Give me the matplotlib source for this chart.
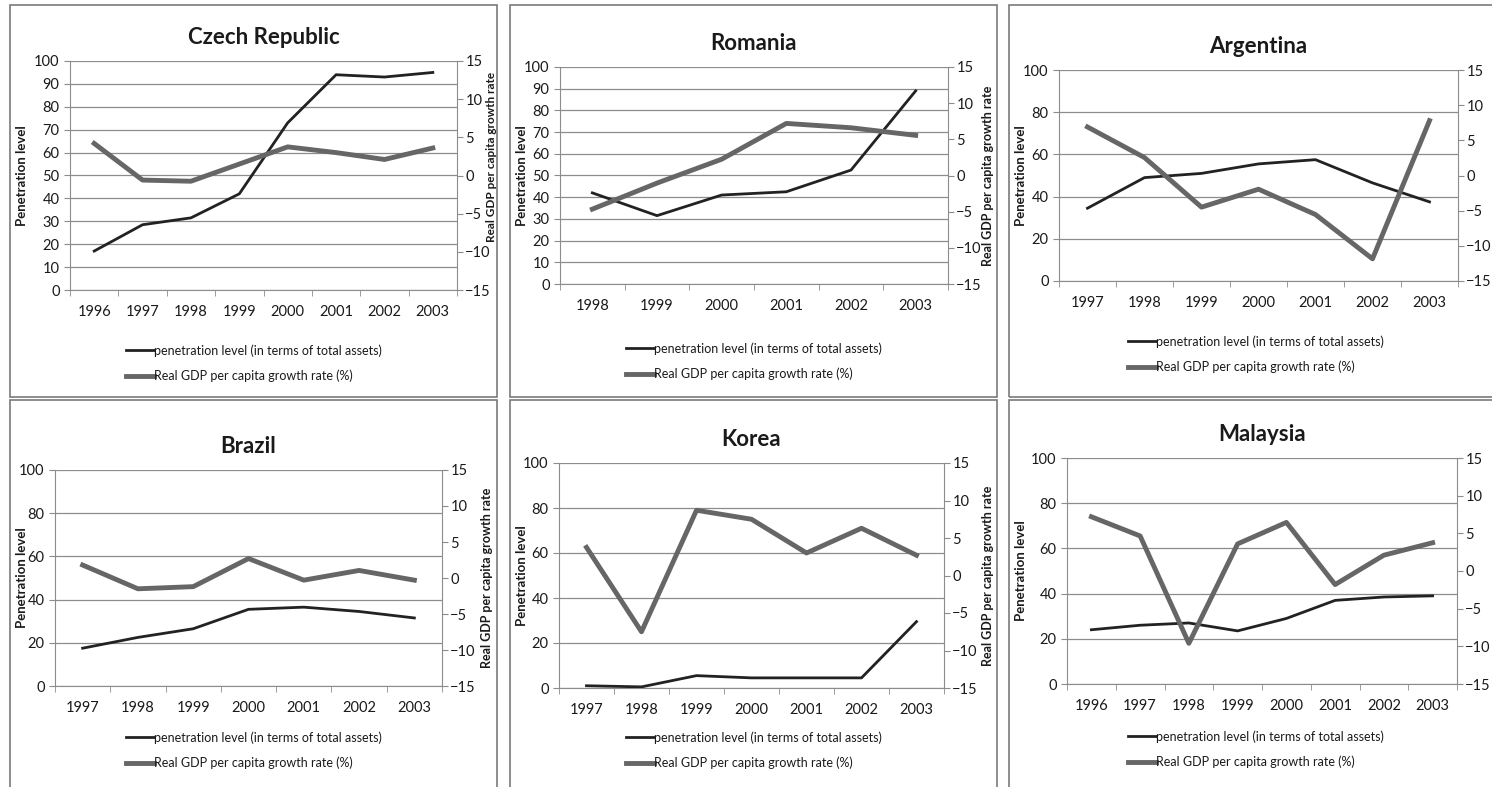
import matplotlib.pyplot as plt
from matplotlib.patches import Rectangle
from matplotlib.lines import Line2D

plt.rcParams['font.family'] = ['Lato', 'DejaVu Sans']

# Data (penetration level on left axis, GDP growth on right axis)
czech_years = ["1996", "1997", "1998", "1999", "2000", "2001", "2002", "2003"]
czech_pen = [17, 28.5, 31.5, 42, 73, 94, 93, 95]
czech_gdp = [4.2, -0.6, -0.75, 1.5, 3.75, 3.0, 2.1, 3.6]

romania_years = ["1998", "1999", "2000", "2001", "2002", "2003"]
romania_pen = [42, 31.5, 41, 42.5, 52.5, 89]
romania_gdp = [-4.65, -1.05, 2.25, 7.2, 6.6, 5.55]

argentina_years = ["1997", "1998", "1999", "2000", "2001", "2002", "2003"]
argentina_pen = [34.5, 49, 51, 55.5, 57.5, 46.5, 37.5]
argentina_gdp = [6.9, 2.55, -4.5, -1.95, -5.55, -11.85, 7.8]

brazil_years = ["1997", "1998", "1999", "2000", "2001", "2002", "2003"]
brazil_pen = [17.5, 22.5, 26.5, 35.5, 36.5, 34.5, 31.5]
brazil_gdp = [1.8, -1.5, -1.2, 2.7, -0.3, 1.05, -0.3]

korea_years = ["1997", "1998", "1999", "2000", "2001", "2002", "2003"]
korea_pen = [1, 0.5, 5.5, 4.5, 4.5, 4.5, 29.5]
korea_gdp = [3.75, -7.5, 8.7, 7.5, 3.0, 6.3, 2.7]

malaysia_years = ["1996", "1997", "1998", "1999", "2000", "2001", "2002", "2003"]
malaysia_pen = [24, 26, 27, 23.5, 29, 37, 38.5, 39]
malaysia_gdp = [7.2, 4.65, -9.6, 3.6, 6.45, -1.8, 2.1, 3.75]

legend_labels = ["penetration level (in terms of total assets)",
                 "Real GDP per capita growth rate (%)"]

PEN_COLOR = "#222222"
GDP_COLOR = "#666666"
GRID_COLOR = "#8c8c8c"
TEXT_COLOR = "#1a1a1a"
W, H = 1492, 787

fig = plt.figure(figsize=(W / 100, H / 100), dpi=100)


# pixel box -> figure fraction
def px_axes(left, top, right, bottom):
    return [left / W, 1 - bottom / H, (right - left) / W, (bottom - top) / H]


def draw_panel(title, years, pen, gdp, box, plot, step, right_label, leg_xy):
    bl, bt, br, bb = box
    fig.add_artist(Rectangle((bl / W, 1 - bb / H), (br - bl) / W, (bb - bt) / H,
                             transform=fig.transFigure, fill=False,
                             edgecolor="#7a7a7a", lw=1.2))
    ax = fig.add_axes(px_axes(*plot))
    pw = plot[2] - plot[0]
    n = len(years)
    x = list(range(n))
    ax.set_xlim(-0.5, n - 0.5)
    ax.set_ylim(0, 100)
    ax.set_yticks(range(0, 101, step))
    ax.set_xticks(x)
    ax.set_xticklabels(years)
    ax.set_xticks([i - 0.5 for i in range(n + 1)], minor=True)
    ax.tick_params(axis="x", which="major", length=0, pad=11, labelsize=10.5,
                   labelcolor=TEXT_COLOR)
    ax.tick_params(axis="x", which="minor", length=4, color=GRID_COLOR)
    ax.tick_params(axis="y", length=4, color=GRID_COLOR, labelsize=10.5,
                   labelcolor=TEXT_COLOR)
    ax.grid(axis="y", color=GRID_COLOR, lw=0.9)
    ax.set_axisbelow(True)
    for s in ["top", "right"]:
        ax.spines[s].set_visible(False)
    for s in ["left", "bottom"]:
        ax.spines[s].set_color(GRID_COLOR)
    ax.set_ylabel("Penetration level", fontsize=9.5, fontweight="bold",
                  va="center", color=TEXT_COLOR)
    ax.yaxis.set_label_coords((bl + 12 - plot[0]) / pw, 0.5)
    ax.set_title(title, fontsize=16, fontweight="bold", pad=12, color=TEXT_COLOR)
    ax.plot(x, pen, color=PEN_COLOR, lw=2, zorder=3)

    ax2 = ax.twinx()
    ax2.set_ylim(-15, 15)
    ax2.set_yticks(range(-15, 16, 5))
    ax2.tick_params(axis="y", length=4, pad=2, color=GRID_COLOR, labelsize=10.5,
                    labelcolor=TEXT_COLOR)
    for s in ["top", "left", "bottom"]:
        ax2.spines[s].set_visible(False)
    ax2.spines["right"].set_color(GRID_COLOR)
    ax2.plot(x, gdp, color=GDP_COLOR, lw=3.5, zorder=2)
    if right_label is not None:
        lx, ly, lsize = right_label
        ax2.set_ylabel("Real GDP per capita growth rate", fontsize=lsize,
                       fontweight="bold", va="center", color=TEXT_COLOR)
        ax2.yaxis.set_label_coords((lx - plot[0]) / pw, ly)

    handles = [Line2D([], [], color=PEN_COLOR, lw=2),
               Line2D([], [], color=GDP_COLOR, lw=3.5)]
    ax.legend(handles, legend_labels, loc="upper left", frameon=False,
              fontsize=9, bbox_to_anchor=(leg_xy[0] / W, 1 - (leg_xy[1] - 8) / H),
              bbox_transform=fig.transFigure, handlelength=2.2,
              handletextpad=0.05, labelspacing=1.05, borderaxespad=0,
              borderpad=0, labelcolor=TEXT_COLOR)


draw_panel("Czech Republic", czech_years, czech_pen, czech_gdp,
           (10, 5, 497, 397), (70, 61, 457, 290), 10, (491, 0.58, 8.5), (126, 352))
draw_panel("Romania", romania_years, romania_pen, romania_gdp,
           (510, 5, 997, 397), (560, 67, 948, 284), 10, (988, 0.5, 9), (626, 350))
draw_panel("Argentina", argentina_years, argentina_pen, argentina_gdp,
           (1009, 5, 1500, 397), (1059, 70, 1458, 281), 20, None, (1128, 343))
draw_panel("Brazil", brazil_years, brazil_pen, brazil_gdp,
           (10, 400, 497, 800), (55, 470, 442, 686), 20, (487, 0.5, 9), (126, 739))
draw_panel("Korea", korea_years, korea_pen, korea_gdp,
           (510, 400, 997, 800), (559, 463, 944, 688), 20, (988, 0.5, 9), (626, 739))
draw_panel("Malaysia", malaysia_years, malaysia_pen, malaysia_gdp,
           (1009, 400, 1500, 800), (1067, 458, 1457, 684), 20, None, (1128, 738))

fig.savefig("out.png", dpi=100)
